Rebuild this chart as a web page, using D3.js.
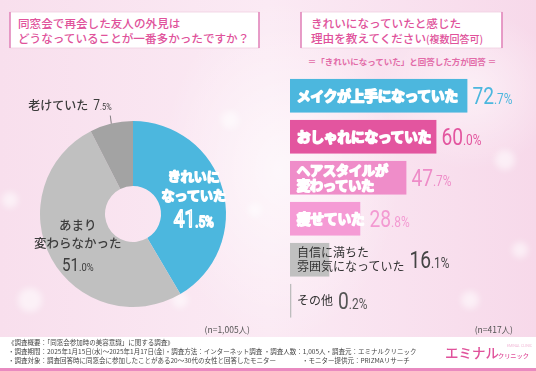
<!DOCTYPE html>
<html>
<head>
<meta charset="utf-8">
<script src="https://cdn.jsdelivr.net/npm/d3@7"></script>
<style>
body{margin:0;background:#fff;}
svg{display:block;}
</style>
</head>
<body>
<div id="chart"></div>
<script>
// ---- data ----
const pieCategories = ["きれいになっていた", "あまり変わらなかった", "老けていた"];
const pieValues = [41.5, 51.0, 7.5];
const pieLabels = [["きれいに", "なっていた"], ["あまり", "変わらなかった"], ["老けていた"]];

const barCategories = ["メイクが上手になっていた", "おしゃれになっていた", "ヘアスタイルが変わっていた",
                       "痩せていた", "自信に満ちた雰囲気になっていた", "その他"];
const barValues = [72.7, 60.0, 47.7, 28.8, 16.1, 0.2];
const barLabels = [["メイクが上手になっていた"], ["おしゃれになっていた"], ["ヘアスタイルが", "変わっていた"],
                   ["痩せていた"], ["自信に満ちた", "雰囲気になっていた"], ["その他"]];

const titleLeft = ["同窓会で再会した友人の外見は", "どうなっていることが一番多かったですか？"];
const titleRight = ["きれいになっていたと感じた", "理由を教えてください", "(複数回答可)"];
const subtitleRight = "＝「きれいになっていた」と回答した方が回答 ＝";
const nLeft = "(n=1,005人)";
const nRight = "(n=417人)";
const footerLines = [
  "《調査概要：「同窓会参加時の美容意識」に関する調査》",
  "・調査期間：2025年1月15日(水)～2025年1月17日(金)・調査方法：インターネット調査 ・調査人数：1,005人・調査元：エミナルクリニック",
  "・調査対象：調査回答時に同窓会に参加したことがある20～30代の女性と回答したモニター"
];
const footerExtra = "・モニター提供元：PRIZMAリサーチ";

// ---- styles ----
const pieColors = ["#4cb7de", "#c0c0c0", "#a3a3a3"];
const barColors = ["#4cb7de", "#e3559f", "#ef8dc9", "#f59bd5", "#c0c0c0", "#bdbdbd"];
const valueColors = ["#4cb7de", "#e3559f", "#ee8cc8", "#f39ad2", "#444", "#555"];
const jp = "'Noto Sans CJK JP', sans-serif";
const pink = "#e0529b";

const W = 536, H = 371;
const svg = d3.select("#chart").append("svg")
  .attr("width", W).attr("height", H);

// ---- background ----
const defs = svg.append("defs");
const bg = defs.append("linearGradient").attr("id", "bg").attr("x1", 0).attr("x2", 1).attr("y1", 0).attr("y2", 0);
bg.append("stop").attr("offset", "0%").attr("stop-color", "#f8dfed");
bg.append("stop").attr("offset", "50%").attr("stop-color", "#fbeaf4");
bg.append("stop").attr("offset", "100%").attr("stop-color", "#f7d9ea");
const glow = defs.append("radialGradient").attr("id", "glow");
glow.append("stop").attr("offset", "0%").attr("stop-color", "#fff").attr("stop-opacity", 0.9);
glow.append("stop").attr("offset", "100%").attr("stop-color", "#fff").attr("stop-opacity", 0);
defs.append("filter").attr("id", "blur").append("feGaussianBlur").attr("stdDeviation", 3);

svg.append("rect").attr("width", W).attr("height", H).attr("fill", "url(#bg)");
svg.append("ellipse").attr("cx", 280).attr("cy", 170).attr("rx", 120).attr("ry", 170).attr("fill", "url(#glow)").attr("opacity", 0.7);
svg.append("ellipse").attr("cx", 470).attr("cy", 90).attr("rx", 90).attr("ry", 80).attr("fill", "url(#glow)").attr("opacity", 0.6);
const bokeh = [[230, 120, 9], [255, 210, 7], [30, 300, 12], [505, 160, 10], [520, 250, 8], [180, 300, 8], [470, 300, 9], [10, 200, 8]];
svg.append("g").attr("filter", "url(#blur)").selectAll("circle").data(bokeh).join("circle")
  .attr("cx", d => d[0]).attr("cy", d => d[1]).attr("r", d => d[2])
  .attr("fill", "#fff").attr("opacity", 0.55);

// ---- title boxes ----
function titleBox(x, y, w, h) {
  svg.append("rect").attr("x", x).attr("y", y).attr("width", w).attr("height", h)
    .attr("fill", "#fff").attr("stroke", "#f1cfe1").attr("stroke-width", 0.8);
  [x, x + w].forEach(xx => {
    svg.append("line").attr("x1", xx).attr("x2", xx).attr("y1", y).attr("y2", y + h)
      .attr("stroke", "#e07db6").attr("stroke-width", 1.4);
  });
}
titleBox(10, 12, 249, 36);
titleBox(301, 12, 201, 36);

svg.append("g").selectAll("text").data(titleLeft).join("text")
  .attr("x", 18).attr("y", (d, i) => 27.5 + i * 15)
  .attr("font-family", jp).attr("font-size", 11.6).attr("font-weight", 500)
  .attr("fill", pink).text(d => d);

svg.append("text").attr("x", 311).attr("y", 27.5)
  .attr("font-family", jp).attr("font-size", 11.6).attr("font-weight", 500)
  .attr("fill", pink).text(titleRight[0]);
const tr2 = svg.append("text").attr("x", 311).attr("y", 42.5)
  .attr("font-family", jp).attr("font-weight", 500).attr("fill", pink);
tr2.append("tspan").attr("font-size", 11.6).text(titleRight[1]);
tr2.append("tspan").attr("font-size", 10).text(titleRight[2]);

svg.append("text").attr("x", 402).attr("y", 65).attr("text-anchor", "middle")
  .attr("font-family", jp).attr("font-size", 8.5).attr("font-weight", 700)
  .attr("fill", "#e26ba8").text(subtitleRight);

// ---- value label helper ----
function drawValue(parent, v, x, y, size, color, anchor, outline) {
  const parts = v.toFixed(1).split(".");
  const g = parent.append("g").attr("transform", `translate(${x},${y}) scale(0.8,1)`);
  const t = g.append("text").attr("text-anchor", anchor)
    .attr("font-family", "Roboto, sans-serif").attr("font-weight", 400).attr("fill", color);
  t.append("tspan").attr("font-size", size).text(parts[0]);
  t.append("tspan").attr("font-size", size * 0.62).text("." + parts[1] + "%");
  if (outline) {
    t.attr("stroke", "#fff").attr("stroke-width", 1.8).attr("stroke-linejoin", "round");
  }
  return t;
}

// ---- donut ----
const cx = 133, cy = 214, rOut = 93, rIn = 28;
const pie = d3.pie().sort(null).value(d => d)(pieValues);
const arc = d3.arc().innerRadius(rIn).outerRadius(rOut);
const labelArc = d3.arc().innerRadius(63).outerRadius(63);
const gPie = svg.append("g").attr("transform", `translate(${cx},${cy})`);
gPie.selectAll("path").data(pie).join("path")
  .attr("d", arc).attr("fill", (d, i) => pieColors[i]);

// inside labels (first two slices)
const offsets = [[-21, -2, 22], [-19, -1, 21]];
[0, 1].forEach(i => {
  const c = labelArc.centroid(pie[i]);
  const outlined = i === 0;
  pieLabels[i].forEach((line, j) => {
    const t = gPie.append("text").attr("x", c[0]).attr("y", c[1] + offsets[i][j] + 5)
      .attr("text-anchor", "middle").attr("font-family", jp)
      .attr("font-size", outlined ? 13 : 12.5).attr("font-weight", outlined ? 400 : 500)
      .text(line);
    if (outlined) {
      t.attr("fill", "#3fa6cf").attr("stroke", "#fff").attr("stroke-width", 2).attr("stroke-linejoin", "round");
    } else {
      t.attr("fill", "#3c3c3c");
    }
  });
  drawValue(gPie, pieValues[i], c[0], c[1] + offsets[i][2] + (outlined ? 8 : 6),
    outlined ? 24 : 19, outlined ? "#4cb7de" : "#3c3c3c", "middle", outlined);
});

// outside label for small slice
const small = pie[2];
const mid = (small.startAngle + small.endAngle) / 2;
const p0 = [Math.sin(mid) * rOut, -Math.cos(mid) * rOut];
gPie.append("line").attr("x1", p0[0]).attr("y1", p0[1])
  .attr("x2", p0[0] - 1).attr("y2", p0[1] - 8)
  .attr("stroke", "#666").attr("stroke-width", 0.8);
const tOld = gPie.append("text").attr("x", p0[0] - 83).attr("y", p0[1] - 14)
  .attr("font-family", jp).attr("font-size", 12).attr("font-weight", 500)
  .attr("fill", "#3c3c3c").text(pieLabels[2][0]);
const oldW = tOld.node().getComputedTextLength();
drawValue(gPie, pieValues[2], p0[0] - 83 + oldW + 5, p0[1] - 14, 15, "#3c3c3c", "start", false);

svg.append("text").attr("x", 250).attr("y", 333).attr("text-anchor", "end")
  .attr("font-family", jp).attr("font-size", 8.5).attr("fill", "#555").text(nLeft);

// ---- bars ----
const x = d3.scaleLinear().domain([0, 100]).range([290, 534]);
const y = d3.scaleBand().domain(barCategories).range([75.25, 321.25])
  .paddingInner(0.18).paddingOuter(0.09);
const gBar = svg.append("g");
gBar.selectAll("rect").data(barValues).join("rect")
  .attr("x", x(0)).attr("y", (d, i) => y(barCategories[i]))
  .attr("width", d => Math.max(x(d) - x(0), 1.3)).attr("height", y.bandwidth())
  .attr("fill", (d, i) => barColors[i]);

barValues.forEach((v, i) => {
  const mid = y(barCategories[i]) + y.bandwidth() / 2;
  const lines = barLabels[i];
  const white = i < 4;
  const fs = white ? (lines.length > 1 ? 13 : 13.5) : 12;
  const lh = white ? 15.5 : 13.5;
  // one text element per bar, lines as tspans
  const t = gBar.append("text")
    .attr("font-family", jp).attr("font-size", fs)
    .attr("font-weight", white ? 500 : 400);
  let maxW = 0;
  lines.forEach((line, j) => {
    const ts = t.append("tspan").attr("x", x(0) + 7)
      .attr("y", mid + (j - (lines.length - 1) / 2) * lh + fs * 0.36)
      .text(line);
    maxW = Math.max(maxW, ts.node().getComputedTextLength());
  });
  if (white) {
    t.attr("fill", d3.color(barColors[i]).darker(0.2)).attr("stroke", "#fff")
      .attr("stroke-width", 2).attr("stroke-linejoin", "round");
  } else {
    t.attr("fill", "#333");
  }
  const vx = Math.max(x(v), x(0) + 7 + maxW) + 5;
  drawValue(gBar, v, vx, mid + 8, 24, valueColors[i], "start", false);
});

svg.append("text").attr("x", 513).attr("y", 333).attr("text-anchor", "end")
  .attr("font-family", jp).attr("font-size", 8.5).attr("fill", "#555").text(nRight);

// ---- footer ----
svg.append("rect").attr("x", 0).attr("y", 337).attr("width", W).attr("height", 31).attr("fill", "#fff");
svg.append("rect").attr("x", 0).attr("y", 368).attr("width", W).attr("height", 3).attr("fill", "#e98ac0");
svg.append("g").selectAll("text").data(footerLines).join("text")
  .attr("x", 8).attr("y", (d, i) => 345 + i * 9)
  .attr("font-family", jp).attr("font-size", 6.5).attr("fill", "#444").text(d => d);
svg.append("text").attr("x", 302).attr("y", 363)
  .attr("font-family", jp).attr("font-size", 6.5).attr("fill", "#444").text(footerExtra);

// logo
svg.append("text").attr("x", 445).attr("y", 358)
  .attr("font-family", jp).attr("font-size", 13.5).attr("font-weight", 500)
  .attr("fill", pink).text("エミナル");
svg.append("text").attr("x", 498).attr("y", 358)
  .attr("font-family", jp).attr("font-size", 6.2).attr("font-weight", 500)
  .attr("fill", pink).text("クリニック");
svg.append("text").attr("x", 507).attr("y", 347)
  .attr("font-family", "Roboto, sans-serif").attr("font-size", 3.6)
  .attr("fill", "#f1b9d7").text("EMINAL CLINIC");
</script>
</body>
</html>
